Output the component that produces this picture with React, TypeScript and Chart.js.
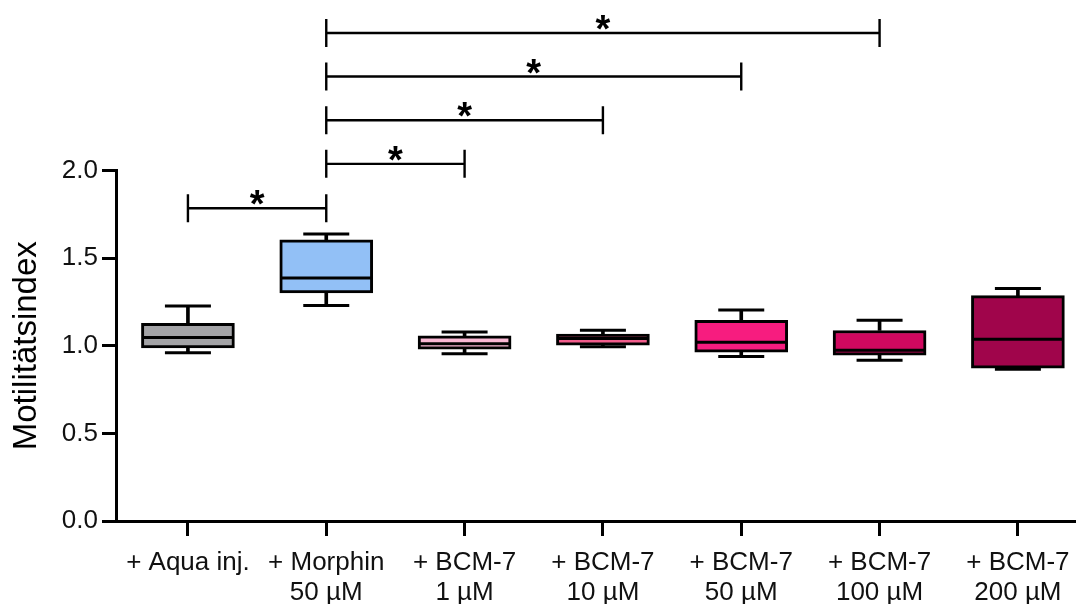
import React, { useEffect, useRef } from "react";
import { Chart, registerables } from "chart.js";

Chart.register(...registerables);

const categories: string[][] = [
  ["+ Aqua inj."],
  ["+ Morphin", "50 µM"],
  ["+ BCM-7", "1 µM"],
  ["+ BCM-7", "10 µM"],
  ["+ BCM-7", "50 µM"],
  ["+ BCM-7", "100 µM"],
  ["+ BCM-7", "200 µM"],
];
const whiskerMax = [1.227, 1.637, 1.079, 1.088, 1.204, 1.145, 1.326];
const q3 = [1.128, 1.605, 1.056, 1.067, 1.145, 1.087, 1.286];
const median = [1.047, 1.386, 1.012, 1.041, 1.02, 0.974, 1.037];
const q1 = [0.988, 1.301, 0.98, 1.003, 0.963, 0.946, 0.872];
const whiskerMin = [0.96, 1.229, 0.955, 0.995, 0.938, 0.917, 0.866];
const boxColors = ["#a3a3a6", "#92c0f6", "#f9b7d3", "#f25d8c", "#f71c7f", "#d0085f", "#a0054b"];
const yTicks = [0, 0.5, 1.0, 1.5, 2.0];

const bracketFrom = [0, 1, 1, 1, 1];
const bracketTo = [1, 2, 3, 4, 5];
const bracketLevel = [1.785, 2.038, 2.287, 2.536, 2.785];
const bracketMark = ["*", "*", "*", "*", "*"];

const FONT = "'Liberation Sans', Arial, sans-serif";

const bracketPlugin = {
  id: "brackets",
  afterDatasetsDraw(chart: any) {
    const { ctx, scales } = chart;
    const xs = scales.x;
    const ys = scales.y;
    ctx.save();
    ctx.strokeStyle = "#000";
    ctx.fillStyle = "#000";
    ctx.lineWidth = 2.4;
    for (let i = 0; i < bracketFrom.length; i++) {
      const x1 = xs.getPixelForValue(bracketFrom[i]);
      const x2 = xs.getPixelForValue(bracketTo[i]);
      const y = ys.getPixelForValue(bracketLevel[i]);
      ctx.beginPath();
      ctx.moveTo(x1, y);
      ctx.lineTo(x2, y);
      ctx.moveTo(x1, y - 14);
      ctx.lineTo(x1, y + 14);
      ctx.moveTo(x2, y - 14);
      ctx.lineTo(x2, y + 14);
      ctx.stroke();
      ctx.font = `bold 38px ${FONT}`;
      ctx.textAlign = "center";
      ctx.textBaseline = "alphabetic";
      ctx.fillText(bracketMark[i], (x1 + x2) / 2, y + 9);
    }
    ctx.restore();
  },
};

export default function App() {
  const ref = useRef<HTMLCanvasElement | null>(null);
  useEffect(() => {
    if (!ref.current) return;
    const idx = categories.map((_, i) => i);
    const chart = new Chart(ref.current, {
      type: "bar",
      data: {
        datasets: [
          {
            type: "scatter",
            label: "median",
            data: idx.map((i) => ({ x: i, y: median[i] })),
            pointStyle: "line",
            pointRadius: 45.5,
            pointHoverRadius: 45.5,
            pointBorderColor: "#000",
            pointBorderWidth: 3,
            order: 0,
          } as any,
          {
            type: "scatter",
            label: "capTop",
            data: idx.map((i) => ({ x: i, y: whiskerMax[i] })),
            pointStyle: "line",
            pointRadius: 23,
            pointHoverRadius: 23,
            pointBorderColor: "#000",
            pointBorderWidth: 3,
            order: 0,
          } as any,
          {
            type: "scatter",
            label: "capBottom",
            data: idx.map((i) => ({ x: i, y: whiskerMin[i] })),
            pointStyle: "line",
            pointRadius: 23,
            pointHoverRadius: 23,
            pointBorderColor: "#000",
            pointBorderWidth: 3,
            order: 3,
          } as any,
          {
            type: "bar",
            label: "box",
            data: idx.map((i) => ({ x: i, y: [q1[i], q3[i]] })),
            backgroundColor: boxColors,
            borderColor: "#000",
            borderWidth: 3,
            borderSkipped: false,
            barThickness: 93,
            grouped: false,
            order: 1,
          } as any,
          {
            type: "bar",
            label: "stemTop",
            data: idx.map((i) => ({ x: i, y: [q3[i], whiskerMax[i]] })),
            backgroundColor: "#000",
            borderWidth: 0,
            barThickness: 3,
            grouped: false,
            order: 2,
          } as any,
          {
            type: "bar",
            label: "stemBottom",
            data: idx.map((i) => ({ x: i, y: [whiskerMin[i], q1[i]] })),
            backgroundColor: "#000",
            borderWidth: 0,
            barThickness: 3,
            grouped: false,
            order: 2,
          } as any,
        ],
      },
      options: {
        responsive: false,
        animation: false,
        events: [],
        layout: { autoPadding: false, padding: { top: 170.5, right: 0, left: 0, bottom: 0 } },
        plugins: { legend: { display: false }, tooltip: { enabled: false } },
        scales: {
          x: {
            type: "linear",
            offset: false,
            min: -0.52,
            max: 6.42,
            afterBuildTicks: (scale: any) => {
              scale.ticks = idx.map((i) => ({ value: i }));
            },
            afterFit: (scale: any) => {
              scale.height = 83;
              scale.paddingLeft = 0;
              scale.paddingRight = 0;
            },
            ticks: {
              callback: (v: any) => categories[Math.round(Number(v))] ?? "",
              font: { family: FONT, size: 26, lineHeight: 1.18 },
              color: "#111",
              padding: 11,
              maxRotation: 0,
              autoSkip: false,
            },
            grid: {
              offset: false,
              drawOnChartArea: false,
              drawTicks: true,
              tickLength: 15,
              tickWidth: 3,
              tickColor: "#000",
            },
            border: { display: true, color: "#000", width: 3 },
          },
          y: {
            min: 0,
            max: 2.0,
            afterBuildTicks: (scale: any) => {
              scale.ticks = yTicks.map((v) => ({ value: v }));
            },
            afterFit: (scale: any) => {
              scale.width = 116;
              scale.paddingTop = 0;
              scale.paddingBottom = 0;
            },
            ticks: {
              callback: (v: any) => Number(v).toFixed(1),
              font: { family: FONT, size: 26 },
              color: "#111",
              padding: 4,
            },
            grid: {
              drawOnChartArea: false,
              drawTicks: true,
              tickLength: 14,
              tickWidth: 3,
              tickColor: "#000",
            },
            border: { display: true, color: "#000", width: 3 },
            title: {
              display: true,
              text: "Motilitätsindex",
              font: { family: FONT, size: 33 },
              color: "#000",
              padding: { top: 7, bottom: 0 },
            },
          },
        },
      },
      plugins: [bracketPlugin],
    });
    return () => chart.destroy();
  }, []);
  return (
    <div style={{ position: "absolute", left: 0, top: 0, width: 1076, height: 604 }}>
      <canvas ref={ref} width={1076} height={604} style={{ display: "block" }} />
    </div>
  );
}
